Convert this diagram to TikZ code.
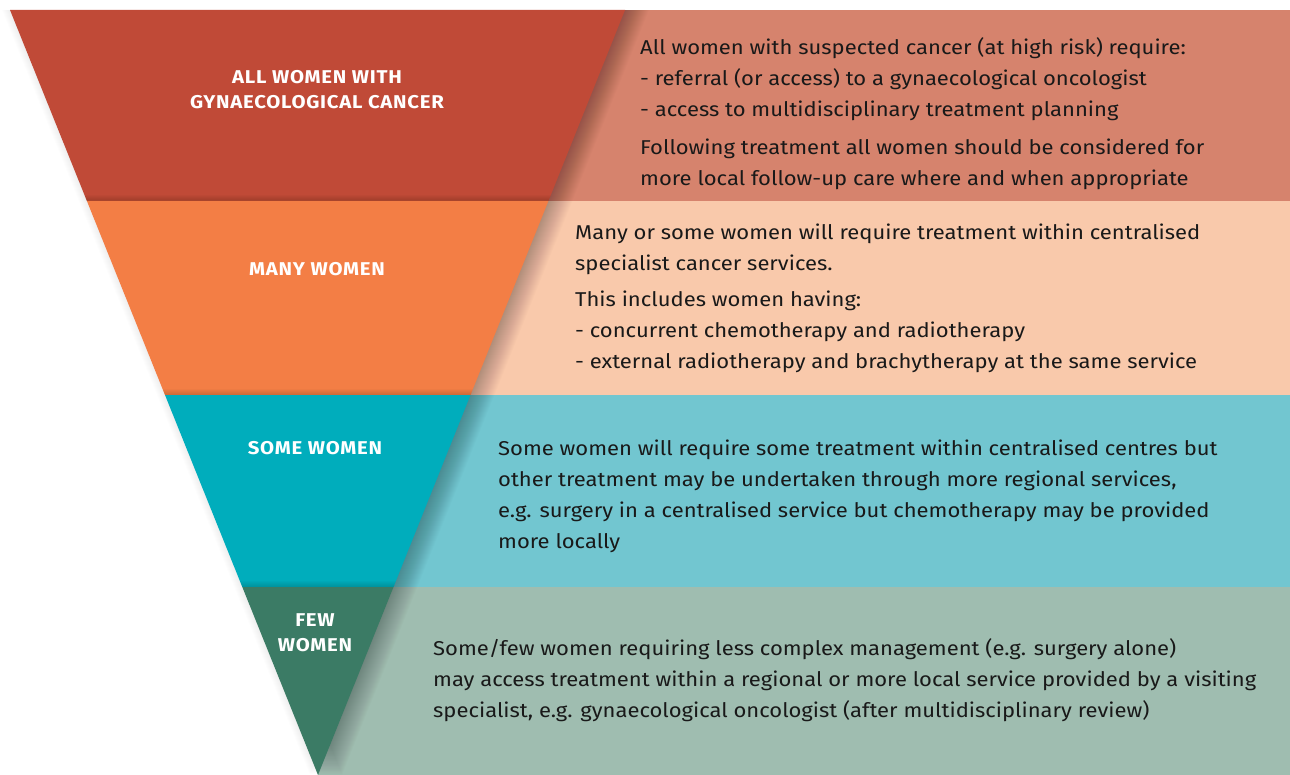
\documentclass[tikz,border=0pt]{standalone}
\usepackage{fontspec}
\setmainfont[FakeStretch=1.1]{Fira Sans}
\newfontfamily\titlefont[FakeStretch=1.1,LetterSpace=4]{Fira Sans}
\definecolor{redD}{HTML}{C04A37}
\definecolor{redL}{HTML}{D6836D}
\definecolor{orgD}{HTML}{F37E45}
\definecolor{orgL}{HTML}{F9C9AB}
\definecolor{tealD}{HTML}{00ADBC}
\definecolor{tealL}{HTML}{72C6D0}
\definecolor{grnD}{HTML}{3B7B65}
\definecolor{grnL}{HTML}{9FBDB0}
\tikzset{
  body/.style={anchor=north west, inner sep=0pt, align=left, text=black!90,
    font=\fontsize{20}{31}\selectfont},
  title/.style={inner sep=0pt, align=center, text=white,
    font=\titlefont\bfseries\fontsize{18.5}{25}\selectfont},
}
\begin{document}
\begin{tikzpicture}[x=1pt,y=-1pt]
\useasboundingbox (0,0) rectangle (1290,775);
% light panels
\fill[redL]  (318,10)  rectangle (1290,201);
\fill[orgL]  (318,201) rectangle (1290,395);
\fill[tealL] (318,395) rectangle (1290,587);
\fill[grnL]  (318,587) rectangle (1290,775);
% shadows of the funnel
\begin{scope}
\clip (0,10) rectangle (1290,775);
\foreach \k in {1,...,24}{
  \fill[black, opacity=0.011] ([xshift=\k pt]10,10) -- ([xshift=\k pt]625,10) -- ([xshift=\k pt]318,775) -- cycle;
}
\foreach \k in {1,...,8}{
  \fill[black, opacity=0.008] ([xshift=-\k pt]10,10) -- ([xshift=-\k pt]625,10) -- ([xshift=-\k pt]318,775) -- cycle;
}
\end{scope}
% funnel bands
\fill[redD]  (10,10) -- (625,10) -- (548.4,201) -- (86.9,201) -- cycle;
\fill[orgD]  (86.9,201) -- (548.4,201) -- (470.5,395) -- (165,395) -- cycle;
\fill[tealD] (165,395) -- (470.5,395) -- (393.5,587) -- (242.3,587) -- cycle;
\fill[grnD]  (242.3,587) -- (393.5,587) -- (318,775) -- cycle;
% soft shading at the foot of each band
\foreach \ya/\yb in {10/201,201/395,395/587}{
  \begin{scope}
  \clip (10,10) -- (625,10) -- (318,775) -- cycle;
  \foreach \k in {1,...,6}{
    \fill[black, opacity=0.022] (0,\yb-\k) rectangle (1290,\yb);
  }
  \end{scope}
}
% titles
\node[title] (t1) at (317,90) {ALL WOMEN WITH\\GYNAECOLOGICAL CANCER};
\node[title] (t2) at (317,269) {MANY WOMEN};
\node[title] (t3) at (315,448) {SOME WOMEN};
\node[title] (t4) at (315,633) {FEW\\WOMEN};
% texts
\node[body] (p1) at (640,37) {All women with suspected cancer (at high risk) require:\\
- referral (or access) to a gynaecological oncologist\\
- access to multidisciplinary treatment planning\\[7pt]
Following treatment all women should be considered for\\
more local follow-up care where and when appropriate};
\node[body] (p2) at (575,224) {Many or some women will require treatment within centralised\\
specialist cancer services.\\[5pt]
This includes women having:\\
- concurrent chemotherapy and radiotherapy\\
- external radiotherapy and brachytherapy at the same service};
\node[body] (p3) at (498,440) {Some women will require some treatment within centralised centres but\\
other treatment may be undertaken through more regional services,\\
e.g. surgery in a centralised service but chemotherapy may be provided\\
more locally};
\node[body] (p4) at (433,638) {Some/few women requiring less complex management (e.g. surgery alone)\\
may access treatment within a regional or more local service provided by a visiting\\
specialist, e.g. gynaecological oncologist (after multidisciplinary review)};
\end{tikzpicture}
\end{document}
